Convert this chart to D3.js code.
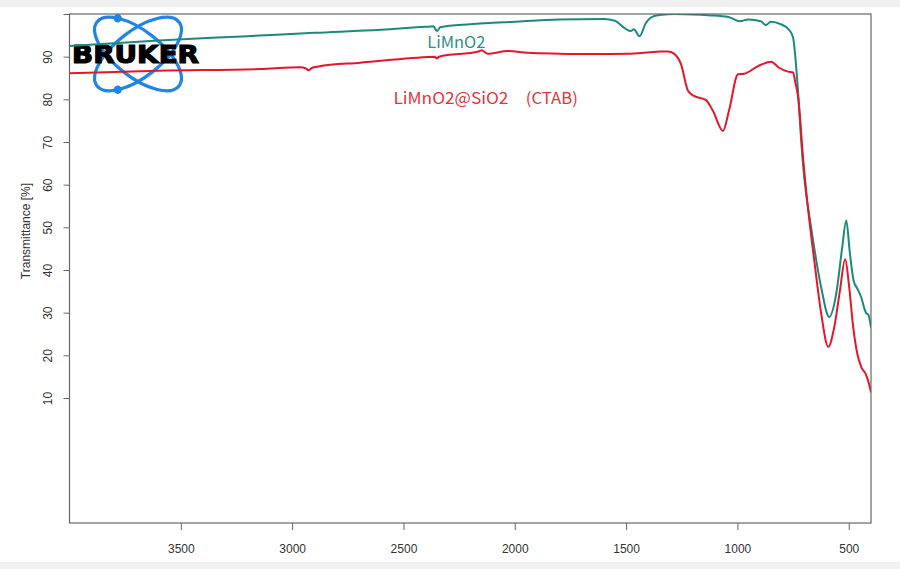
<!DOCTYPE html>
<html>
<head>
<meta charset="utf-8">
<script src="https://cdn.jsdelivr.net/npm/d3@7"></script>
<style>
  body { margin: 0; background: #fff; }
  svg { display: block; }
</style>
</head>
<body>
<div id="chart"></div>
<script>
// LiMnO2 spectrum (wavenumber cm-1, transmittance %)
const limnWn = [4000, 3600, 3200, 2900, 2600, 2400, 2365, 2350, 2335, 2200, 2000, 1800, 1600, 1550, 1510, 1480, 1465, 1440, 1411, 1375, 1340, 1285, 1200, 1130, 1040, 1000, 990, 950, 895, 872, 850, 805, 770, 750, 740, 727, 714, 700, 669, 624, 588, 556, 530, 511, 495, 478, 460, 444, 430, 422, 412, 400];
const limnT = [92.5, 93.8, 94.8, 95.6, 96.3, 97.0, 97.1, 96.0, 96.9, 97.6, 98.2, 98.7, 98.8, 98.4, 96.8, 96.0, 96.4, 94.8, 97.9, 99.5, 99.8, 100.0, 99.9, 99.7, 99.3, 98.4, 98.3, 98.7, 98.3, 97.4, 98.2, 97.6, 96.4, 94.5, 90.0, 81.3, 70.5, 61.7, 50.0, 36.0, 29.0, 34.5, 45.0, 51.6, 44.0, 37.5, 35.5, 33.6, 31.0, 29.9, 29.5, 26.5];

// LiMnO2@SiO2 (CTAB) spectrum
const sioWn = [4000, 3600, 3143, 2963, 2940, 2927, 2910, 2882, 2693, 2392, 2360, 2350, 2340, 2162, 2149, 2122, 2032, 1942, 1800, 1645, 1492, 1420, 1344, 1312, 1285, 1253, 1222, 1195, 1141, 1110, 1065, 1038, 997, 970, 907, 849, 813, 773, 750, 740, 727, 704, 682, 655, 624, 592, 565, 540, 516, 498, 480, 460, 444, 422, 410, 400];
const sioT = [86.1, 86.7, 87.1, 87.5, 87.3, 86.8, 87.4, 87.7, 88.6, 89.9, 90.0, 89.6, 90.0, 91.2, 91.5, 90.7, 91.3, 90.9, 90.7, 90.6, 90.7, 90.9, 91.2, 91.2, 90.7, 88.2, 82.0, 80.8, 79.8, 77.3, 72.6, 77.3, 85.9, 86.0, 87.8, 88.8, 87.4, 86.5, 86.3, 84.0, 80.4, 65.6, 54.0, 42.3, 29.9, 22.0, 26.6, 35.0, 42.5, 36.0, 26.6, 20.0, 17.3, 15.4, 13.5, 11.3];

const xTicks = [3500, 3000, 2500, 2000, 1500, 1000, 500];
const yTicks = [10, 20, 30, 40, 50, 60, 70, 80, 90, 100];
const yTickLabels = ["10", "20", "30", "40", "50", "60", "70", "80", "90", ""];
// name of each curve, split where the reference leaves a wide gap
const seriesNames = [["LiMnO2"], ["LiMnO2@SiO2", "(CTAB)"]];
const labelAt = [[2393, 92.1], [2545, 78.9]];   // where each name starts
const labelEnd = [null, 1717];                   // where the last part ends
const labelWidths = [[58], [115, 52]];

const W = 900, H = 569;
const plotL = 69.5, plotR = 871, plotT = 14, plotB = 523;

const svg = d3.select('#chart').append('svg').attr('width', W).attr('height', H);

// grey bands of the screenshot
svg.append('rect').attr('x', 0).attr('y', 0).attr('width', W).attr('height', 7).attr('fill', '#f0f0f0');
svg.append('rect').attr('x', 0).attr('y', 562).attr('width', W).attr('height', 7).attr('fill', '#f1f1f1');

const x = d3.scaleLinear().domain([4000, 400]).range([plotL, plotR]);
const y = d3.scaleLinear().domain([-19.3, 100]).range([plotB, plotT]);

// bruker logo
const logo = svg.append('g').attr('transform', 'translate(138,54)');
[38, -38].forEach(function (a, i) {
    const g = logo.append('g').attr('transform', 'rotate(' + a + ')');
    g.append('ellipse')
        .attr('rx', 52).attr('ry', 23)
        .attr('fill', 'none')
        .attr('stroke', '#1f86e8')
        .attr('stroke-width', 3.2);
    const t = i === 0 ? 223 : 137;
    g.append('circle')
        .attr('cx', 52 * Math.cos(t * Math.PI / 180))
        .attr('cy', 23 * Math.sin(t * Math.PI / 180))
        .attr('r', 4.2)
        .attr('fill', '#1f86e8');
});
svg.append('text')
    .attr('x', 72).attr('y', 62.5)
    .attr('textLength', 127).attr('lengthAdjust', 'spacingAndGlyphs')
    .style('font-family', 'DejaVu Sans')
    .style('font-weight', 'bold')
    .style('font-size', '24px')
    .style('fill', '#000')
    .style('stroke', '#000')
    .style('stroke-width', 1.2)
    .text('BRUKER');

// curves
svg.append('clipPath').attr('id', 'clip').append('rect')
    .attr('x', plotL).attr('y', plotT).attr('width', plotR - plotL).attr('height', plotB - plotT);

const line = d3.line()
    .x(d => x(d[0]))
    .y(d => y(d[1]))
    .curve(d3.curveMonotoneX);

const series = [
    { wn: limnWn, t: limnT, color: '#1b8a7c', text: '#2e8f86' },
    { wn: sioWn, t: sioT, color: '#e5162b', text: '#e2343d' }
];

series.forEach(function (s, i) {
    svg.append('path')
        .datum(s.wn.map((w, k) => [w, s.t[k]]))
        .attr('d', line)
        .attr('clip-path', 'url(#clip)')
        .attr('fill', 'none')
        .attr('stroke', s.color)
        .attr('stroke-width', 2)
        .attr('stroke-linejoin', 'round');
    const parts = seriesNames[i];
    parts.forEach(function (p, k) {
        const last = k > 0 && k === parts.length - 1;
        svg.append('text')
            .attr('x', last ? x(labelEnd[i]) : x(labelAt[i][0]))
            .attr('y', y(labelAt[i][1]))
            .attr('text-anchor', last ? 'end' : 'start')
            .attr('textLength', labelWidths[i][k])
            .attr('lengthAdjust', 'spacingAndGlyphs')
            .style('font-family', '"Noto Sans CJK SC", "Noto Sans"')
            .style('font-size', '16px')
            .style('fill', s.text)
            .text(p);
    });
});

// axes
const xAxis = svg.append('g')
    .attr('transform', 'translate(0,' + plotB + ')')
    .call(d3.axisBottom(x).tickValues(xTicks).tickSize(7).tickPadding(14.5).tickFormat(d3.format('d')));

const yAxis = svg.append('g')
    .attr('transform', 'translate(' + plotL + ',0)')
    .call(d3.axisLeft(y).tickValues(yTicks).tickSize(6).tickFormat((d, i) => yTickLabels[i]));

yAxis.selectAll('.tick text')
    .attr('transform', 'rotate(-90)')
    .attr('x', 0).attr('y', -22).attr('dy', null)
    .attr('text-anchor', 'middle')
    .attr('dominant-baseline', 'central');

[xAxis, yAxis].forEach(function (ax) {
    ax.select('.domain').remove();
    ax.selectAll('.tick line').attr('stroke', '#666');
    ax.selectAll('.tick text')
        .style('font-family', '"Liberation Sans", Arial, sans-serif')
        .style('font-size', '12px')
        .style('fill', '#333');
});

svg.append('rect')
    .attr('x', plotL).attr('y', plotT)
    .attr('width', plotR - plotL).attr('height', plotB - plotT)
    .attr('fill', 'none')
    .attr('stroke', '#666')
    .attr('stroke-width', 1.2);

svg.append('text')
    .attr('transform', 'translate(26,231) rotate(-90)')
    .attr('text-anchor', 'middle')
    .attr('dominant-baseline', 'central')
    .style('font-family', '"Liberation Sans", Arial, sans-serif')
    .style('font-size', '12px')
    .style('fill', '#333')
    .text('Transmittance [%]');
</script>
</body>
</html>
